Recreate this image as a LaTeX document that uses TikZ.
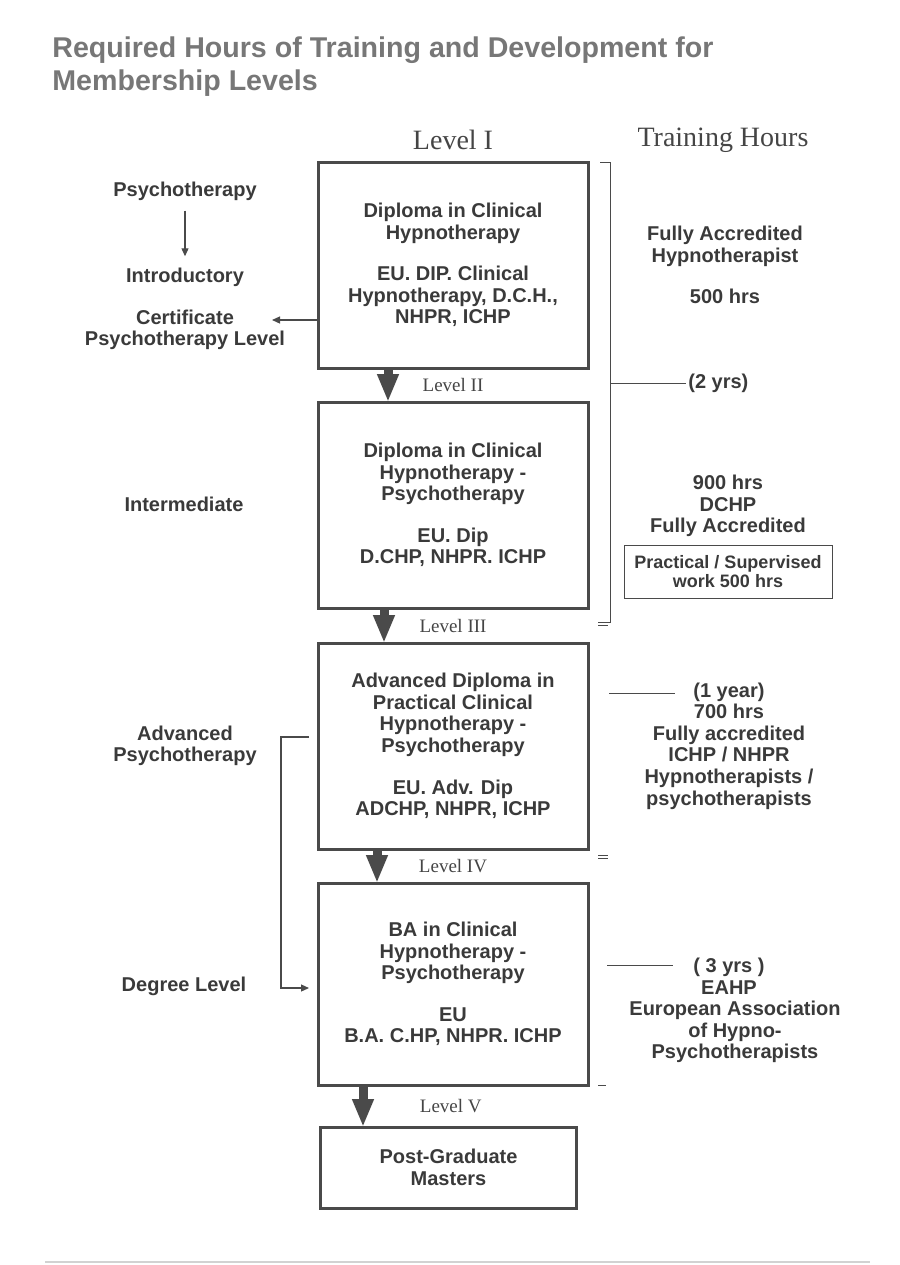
\documentclass[tikz,border=0pt]{standalone}
\usepackage{fontspec}
\setmainfont{Liberation Sans}
\newfontfamily\lvlfont{Liberation Serif}
\usetikzlibrary{shapes, arrows.meta, positioning, calc}
\definecolor{ink}{HTML}{3A3A3A}
\definecolor{titlegray}{HTML}{777777}
\definecolor{lvlgray}{HTML}{454545}
\definecolor{boxline}{HTML}{4A4A4A}
\tikzstyle{titletext} = [align=left, inner sep=0pt, text=titlegray, font=\bfseries\fontsize{14.3}{16.5}\selectfont]
\tikzstyle{heading} = [text=lvlgray, font=\lvlfont\fontsize{14}{16}\selectfont]
\tikzstyle{levelname} = [text=lvlgray, font=\lvlfont\fontsize{9.5}{11}\selectfont]
\tikzstyle{levelbox} = [rectangle, minimum width=135pt, minimum height=103pt, outer sep=0pt, text centered, align=center, draw=boxline, line width=1.5pt, text=ink, font=\bfseries\fontsize{10}{10.8}\selectfont]
\tikzstyle{sidetext} = [align=center, inner sep=1pt, text=ink, font=\bfseries\fontsize{10}{10.8}\selectfont]
\tikzstyle{smallbox} = [rectangle, minimum width=104pt, minimum height=26.5pt, align=center, draw=boxline, line width=0.5pt, text=ink, font=\bfseries\fontsize{9}{9.6}\selectfont]
\tikzstyle{bigarrow} = [draw=boxline, line width=4.5pt, -{Triangle[length=14pt, width=10pt]}]
\tikzstyle{thinedge} = [draw=boxline, line width=0.6pt, -{Triangle[length=4pt, width=3.5pt]}]
\tikzstyle{bracket} = [draw=boxline, line width=0.5pt]

\begin{document}
\begin{tikzpicture}[x=0.5pt, y=-0.5pt]

\useasboundingbox (0,0) rectangle (900,1265);

% title and column headings
\node (title) [titletext, anchor=north west] at (52,36) {Required Hours of Training and Development for\\Membership Levels};
\node (lvlone) [heading] at (453,140) {Level I};
\node (hours) [heading] at (723,140) {Training Hours};

% level boxes
\node (box1) [levelbox] at (453,265) {Diploma in Clinical\\Hypnotherapy\\[1em]EU. DIP. Clinical\\Hypnotherapy, D.C.H.,\\NHPR, ICHP};
\node (box2) [levelbox, below=17pt of box1] {Diploma in Clinical\\Hypnotherapy -\\Psychotherapy\\[1em]EU. Dip\\D.CHP, NHPR. ICHP};
\node (box3) [levelbox, below=17.5pt of box2] {Advanced Diploma in\\Practical Clinical\\Hypnotherapy -\\Psychotherapy\\[1em]EU. Adv. Dip\\ADCHP, NHPR, ICHP};
\node (box4) [levelbox, minimum height=101pt, below=17pt of box3] {BA in Clinical\\Hypnotherapy -\\Psychotherapy\\[1em]EU\\B.A. C.HP, NHPR. ICHP};
\node (box5) [levelbox, minimum width=128pt, minimum height=40.5pt, below=21pt of box4, xshift=-2.25pt] {Post-Graduate\\Masters};

\node (lvltwo) [levelname] at ($(box1.south)!0.5!(box2.north)$) {Level II};
\node (lvlthree) [levelname] at ($(box2.south)!0.5!(box3.north)$) {Level III};
\node (lvlfour) [levelname] at ($(box3.south)!0.5!(box4.north)$) {Level IV};
\node (lvlfive) [levelname] at ($(box4.south)!0.5!(box5.north)$) {Level V};

\draw [bigarrow] ([xshift=-32.5pt]box1.south) -- ([xshift=-32.5pt]box2.north);
\draw [bigarrow] ([xshift=-34.5pt]box2.south) -- ([xshift=-34.5pt]box3.north);
\draw [bigarrow] ([xshift=-38pt]box3.south) -- ([xshift=-38pt]box4.north);
\draw [bigarrow] ([xshift=-45pt]box4.south) coordinate (a4) -- (a4 |- box5.north);

% left column
\node (psy) [sidetext] at (185,191) {Psychotherapy};
\node (intro) [sidetext] at (185,277) {Introductory};
\node (cert) [sidetext] at (185,330) {Certificate\\Psychotherapy Level};
\node (intermed) [sidetext] at (184,504) {Intermediate};
\node (adv) [sidetext] at (185,746) {Advanced\\Psychotherapy};
\node (degree) [sidetext] at (184,986) {Degree Level};

\coordinate (certtip) at (272,320);
\coordinate (advout) at (309,737);
\coordinate (degin) at (309,988);

\draw [thinedge, shorten <=4pt, shorten >=4.5pt] (psy) -- (intro);
\draw [thinedge] (box1.west |- certtip) -- (certtip);
\draw [thinedge] (advout) -- ++(-14pt,0) |- (degin);

% right column
\node (twoyrs) [sidetext, anchor=west] at (686,383) {(2 yrs)};
\node (fullyone) [sidetext] at (725,265) {Fully Accredited\\Hypnotherapist\\[1em]500 hrs};
\node (ninehrs) [sidetext] at (728,506) {900 hrs\\DCHP\\Fully Accredited};
\node (practical) [smallbox] at (728,571.5) {Practical / Supervised\\work 500 hrs};
\node (oneyr) [sidetext] at (729,746) {(1 year)\\700 hrs\\Fully accredited\\ICHP / NHPR\\Hypnotherapists /\\psychotherapists};
\node (threeyr) [sidetext] at (729,976) {( 3 yrs )\\EAHP};
\node (eahp) [sidetext] at (735,1032) {European Association\\of Hypno-\\Psychotherapists};

\coordinate (yearline) at (609,693);
\coordinate (yrsline) at (607,965);

\draw [bracket] (600,162) -- (610,162) -- (610,622) -- (598,622);
\draw [bracket] (598,625.5) -- (608,625.5);
\draw [bracket] (610,383) -- (twoyrs.west);
\draw [bracket] (yearline) -- ++(33pt,0);
\draw [bracket] (598,855) -- (608,855);
\draw [bracket] (598,858) -- (608,858);
\draw [bracket] (yrsline) -- ++(33pt,0);
\draw [bracket] (598,1085) -- (606,1085);

% page rule
\draw [gray!35, line width=1pt] (45,1262) -- (870,1262);

\end{tikzpicture}
\end{document}
